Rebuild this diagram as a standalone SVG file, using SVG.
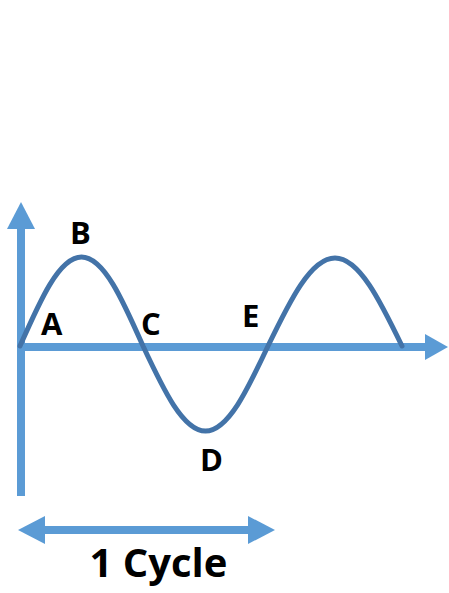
<svg xmlns="http://www.w3.org/2000/svg" width="449" height="593" viewBox="0 0 449 593">
<style>
.axis{stroke:#5B9BD5;stroke-width:8;fill:none}
.head{fill:#5B9BD5}
.wave{stroke:#4373A8;stroke-width:5;fill:none;stroke-linecap:round}
.lbl{font-family:"Open Sans","Liberation Sans",sans-serif;font-weight:bold;font-size:31px;fill:#000}
.cyc{font-family:"Open Sans","Liberation Sans",sans-serif;font-weight:bold;font-size:40px;fill:#000}
</style>
<rect width="449" height="593" fill="#fff"/>
<g id="connectors">
<g id="y-axis">
<line class="axis" x1="21" y1="496" x2="21" y2="226"/>
<polygon class="head" points="21,202 35,229 7,229"/>
</g>
<g id="x-axis">
<line class="axis" x1="17" y1="347" x2="428" y2="347"/>
<polygon class="head" points="448,347 425,334 425,360"/>
</g>
<g id="cycle-arrow">
<line class="axis" x1="42" y1="530" x2="251" y2="530"/>
<polygon class="head" points="18,530 45,516 45,544"/>
<polygon class="head" points="275,530 248,516 248,544"/>
</g>
</g>
<g id="wave">
<path class="wave" d="M20,346 C40.1,300.4 59.2,257 81.5,257 C103.8,257 122.9,300.4 143,346 C163.4,389.5 182.9,431 205.5,431 C228.1,431 247.6,389.5 268,346 C289.8,300.9 310.8,258 335,258 C359.2,258 380.2,300.9 402,346"/>
</g>
<g id="label-A"><text class="lbl" x="41" y="335">A</text></g>
<g id="label-B"><text class="lbl" x="70" y="244">B</text></g>
<g id="label-C"><text class="lbl" x="141" y="335">C</text></g>
<g id="label-D"><text class="lbl" x="200" y="471">D</text></g>
<g id="label-E"><text class="lbl" x="242" y="327">E</text></g>
<g id="label-cycle"><text class="cyc" x="158.5" y="577" text-anchor="middle">1 Cycle</text></g>
</svg>
